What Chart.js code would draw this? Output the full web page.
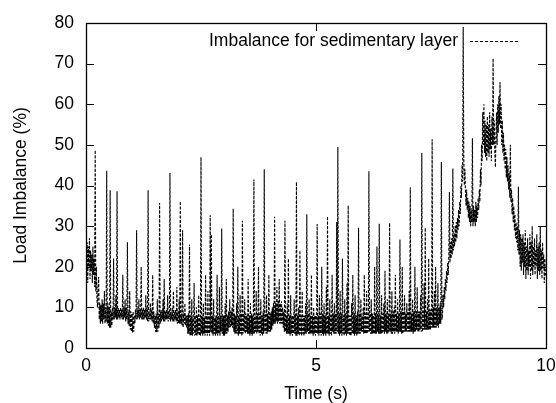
<!DOCTYPE html>
<html>
<head>
<meta charset="utf-8">
<script src="https://cdn.jsdelivr.net/npm/chart.js@4.4.1/dist/chart.umd.min.js"></script>
<style>
html,body{margin:0;padding:0;background:#fff;}
#wrap{width:556px;height:403px;}
canvas{display:block;}
</style>
</head>
<body>
<div id="wrap"><canvas id="c" width="556" height="403"></canvas></div>
<script>
// ---- data ----
const sampleStep = 0.0125; // seconds between samples
const seriesLabel = 'Imbalance for sedimentary layer';
const xTitle = 'Time (s)';
const yTitle = 'Load Imbalance (%)';
const xTickValues = [0, 5, 10];
const yTickValues = [0, 10, 20, 30, 40, 50, 60, 70, 80];
const imbalance = [
  28, 18, 26, 16, 25, 20, 27, 17, 24, 19, 23, 16, 25, 18, 22, 15, 48.7, 14, 20, 12,
  10, 15, 17.5, 7, 11, 6, 10.5, 6.5, 12, 6, 11, 7, 14, 6, 10, 6.5, 43.6, 6, 11, 5.5,
  10, 5, 38.8, 5, 9, 5.5, 10, 7, 22, 7, 10, 7.5, 13, 7, 38.6, 7, 10, 7.5, 9.5, 7,
  10, 7.5, 9.5, 7, 18, 7, 10, 7.5, 12, 6.5, 10, 7, 26, 6, 9, 5.5, 14, 4.5, 9, 4,
  8.5, 3.8, 9, 4, 8, 6, 9.5, 7, 29, 7, 9.5, 7.5, 12, 7, 9.5, 7.5, 20, 7, 9.5, 7,
  10, 7, 9.5, 7.5, 13, 7, 10, 6.5, 38.8, 6.5, 9, 7, 11, 7, 9.5, 6.5, 18, 6, 9, 5,
  8, 4, 8.5, 3.8, 12, 4, 8.5, 5, 35.7, 6, 9, 6.5, 9.5, 7, 12, 6.5, 17, 6.5, 9, 7,
  9.5, 7, 13, 6.5, 9, 7, 43.1, 6.5, 9, 7, 10, 6.5, 14, 6.5, 9, 7, 9.5, 6.5, 15, 6,
  9, 6, 12, 6, 36.1, 6, 8.5, 5.5, 29, 5, 8.5, 6, 11, 5.5, 8, 5, 8, 3.5, 8.5, 3.5,
  25.5, 3, 8, 3.2, 12, 3, 7.5, 3.5, 16, 3, 8, 3.2, 10, 3, 8, 3.5, 13, 3, 7.5, 3,
  47, 3.5, 8, 3, 11, 3.5, 7.5, 3, 18, 3.5, 8, 3, 14, 3.5, 8, 3, 32.7, 4, 28, 3.5,
  8, 3, 12, 3.5, 7.5, 3, 8, 3.5, 18, 3, 8, 3.5, 15, 3, 8, 4, 29.4, 3.5, 8, 3,
  8, 3, 11, 3.5, 17, 3.5, 8, 4, 9, 5, 12, 5, 9, 5.5, 10, 5, 34.3, 4, 8.5, 3.5,
  8, 3.5, 11, 3.5, 20, 3, 8, 3.5, 13, 3.5, 8.5, 3, 31.3, 3.5, 8.5, 4, 12, 3.5, 8.5, 4,
  8, 3.5, 17, 3.5, 8, 3, 11, 3.5, 8.5, 3, 8, 3.5, 41.5, 3.5, 8, 4, 14, 3.5, 8.5, 4,
  20, 3.5, 8.5, 3, 12, 3.5, 8, 3, 9, 3.5, 44, 4, 8.5, 3.5, 13, 3.5, 8.5, 4, 18, 4,
  8.5, 4, 9, 4.5, 10, 5.5, 11, 6, 32.3, 6, 11, 6.5, 15, 6, 11.5, 6.5, 17, 6, 11, 6,
  11.5, 6, 10, 5, 9, 4, 31.3, 4, 8, 3.5, 11, 3.5, 22, 3.5, 8, 3, 13, 3.5, 8, 3,
  8, 3.5, 12, 3.5, 8.5, 3, 40.9, 3, 8, 3.5, 10, 3, 24, 3.5, 8, 3, 14, 3.5, 8, 3,
  8, 3.5, 11, 3.5, 32.9, 4, 8.5, 3.5, 12, 3.5, 8, 3.5, 18, 3.5, 8, 3, 10, 3.5, 8, 3,
  8, 3.5, 30.5, 3.5, 8, 3, 13, 3.5, 8.5, 3, 20, 3.5, 8.5, 3, 11, 3.5, 8, 3, 15, 3.5,
  32.4, 3.5, 8, 3, 12, 3.5, 8, 3, 18, 4, 8.5, 3.5, 11, 3.5, 8.5, 3.5, 31, 4, 49.5, 3.5,
  8.5, 3, 14, 3.5, 8.5, 3, 22, 3.5, 8, 3, 12, 3.5, 8.5, 3, 16, 3.5, 35.1, 3.5, 8, 3,
  8, 3, 11, 3.5, 18, 3.5, 8.5, 3, 13, 3.5, 8, 3, 9, 3.5, 29.6, 3.5, 8.5, 3.5, 12, 4,
  8, 4, 10, 3.5, 18, 3.5, 8.5, 3.5, 14, 3.5, 8.5, 4, 43.5, 4, 8.5, 3.5, 12, 3.5, 8.5, 3.5,
  8, 3.5, 20, 3.5, 8.5, 3.5, 25, 4, 8.5, 3.5, 30.6, 3.5, 8, 3.5, 13, 3.5, 8.5, 4, 11, 3.5,
  19, 4, 8.5, 3.5, 12, 3.5, 8.5, 4, 30.8, 4, 8.5, 3.5, 14, 3.5, 9, 4, 10, 3.5, 18, 4,
  8.5, 4, 12, 3.5, 8.5, 4, 26.7, 4, 9, 3.5, 20, 3.5, 9, 4, 13, 4, 8.5, 4, 11, 4,
  9, 4, 14, 4, 39.5, 4, 8.5, 4, 12, 3.5, 9, 4, 20, 4, 9, 4.5, 15, 4, 9, 4,
  9, 4.5, 13, 4, 48, 4, 9, 4.5, 16, 4.5, 29.6, 4.5, 9, 4.5, 12, 4.5, 22, 4.5, 9.5, 4.5,
  9.5, 5, 51.4, 5, 10, 5, 14, 5, 20, 5, 10, 5.5, 16, 5, 10, 6, 11, 6, 45.8, 7,
  8, 13, 10, 15, 12, 17, 14, 19, 16, 21, 18, 23, 38.4, 21, 26, 22, 27, 23, 44.2, 24,
  28, 25, 30, 26, 31, 27, 32, 29, 34, 30, 36, 33, 40, 37, 45, 41, 79, 47, 40, 44,
  38, 35, 39, 34, 37, 32, 36, 31, 35, 30, 34, 31, 51.6, 30, 35, 31, 34, 30, 36, 31,
  35, 32, 37, 34, 39, 36, 44, 40, 50, 46, 58, 50, 60, 48, 56, 47, 55, 46, 57, 48,
  55, 47, 58, 49, 54, 46, 57, 50, 71.3, 50, 56, 48, 44.5, 52, 58, 50, 60, 53, 62, 55,
  65.5, 54, 60, 50, 56, 48, 53, 46, 50, 44, 49, 42, 47, 41, 45, 39, 43, 37, 50, 36,
  39, 33, 37, 31, 35, 29, 33, 27, 31, 26, 30, 24, 39.7, 23, 29, 20, 28, 19, 27, 21,
  28, 18, 26, 20, 29, 17, 25, 19, 27, 18, 24, 20, 28, 17, 26, 19, 30, 18, 25, 20,
  27, 18, 24, 20, 28, 17, 25, 19, 26, 18, 30, 19, 24, 17, 26, 20, 23, 16, 22, 18,
  18
];

// ---- build chart ----
const points = imbalance.map((v, i) => ({ x: i * sampleStep, y: v }));
const FONT = "'Liberation Sans', Arial, Helvetica, sans-serif";
const FSIZE = 17.5;

const gnuplotFrame = {
  id: 'gnuplotFrame',
  afterDraw(chart) {
    const ctx = chart.ctx;
    const a = chart.chartArea;
    const xs = chart.scales.x, ys = chart.scales.y;
    const tl = 8;
    ctx.save();
    ctx.strokeStyle = '#000';
    ctx.lineWidth = 1;
    ctx.setLineDash([]);
    ctx.beginPath();
    yTickValues.forEach(v => {
      const p = Math.round(ys.getPixelForValue(v)) + 0.5;
      ctx.moveTo(a.left, p); ctx.lineTo(a.left + tl, p);
      ctx.moveTo(a.right, p); ctx.lineTo(a.right - tl, p);
    });
    xTickValues.forEach(v => {
      const p = Math.round(xs.getPixelForValue(v)) + 0.5;
      ctx.moveTo(p, a.bottom); ctx.lineTo(p, a.bottom - tl);
      ctx.moveTo(p, a.top); ctx.lineTo(p, a.top + tl);
    });
    ctx.stroke();
    ctx.lineWidth = 1.3;
    ctx.strokeRect(Math.round(a.left) + 0.5, Math.round(a.top) + 0.5,
                   Math.round(a.right - a.left), Math.round(a.bottom - a.top));
    // key (legend) in gnuplot style: text then line sample
    ctx.fillStyle = '#000';
    ctx.font = FSIZE + 'px ' + FONT;
    ctx.textAlign = 'right';
    ctx.textBaseline = 'middle';
    ctx.fillText(seriesLabel, 458, 41);
    ctx.lineWidth = 1;
    ctx.setLineDash([3, 2]);
    ctx.beginPath();
    ctx.moveTo(470, 41.5); ctx.lineTo(519, 41.5);
    ctx.stroke();
    ctx.restore();
  }
};

new Chart(document.getElementById('c'), {
  type: 'line',
  data: {
    datasets: [{
      label: seriesLabel,
      data: points,
      borderColor: '#000',
      borderWidth: 1.1,
      borderDash: [3, 1.5],
      pointRadius: 0,
      tension: 0,
      fill: false
    }]
  },
  options: {
    responsive: false,
    animation: false,
    devicePixelRatio: 1,
    layout: { padding: { top: 23, right: 10, left: 0, bottom: 0 } },
    plugins: { legend: { display: false }, tooltip: { enabled: false } },
    scales: {
      x: {
        type: 'linear', min: 0, max: 10,
        afterBuildTicks(s) { s.ticks = xTickValues.map(v => ({ value: v })); },
        afterFit(s) { s.height = 55; s.paddingLeft = 0; s.paddingRight = 0; },
        grid: { display: false, drawTicks: false },
        border: { display: false },
        ticks: { color: '#000', padding: 9, maxRotation: 0, font: { family: FONT, size: FSIZE, lineHeight: 1 } },
        title: { display: true, text: xTitle, color: '#000', padding: { top: 0, bottom: 0 }, font: { family: FONT, size: FSIZE, lineHeight: 1 } }
      },
      y: {
        min: 0, max: 80,
        afterBuildTicks(s) { s.ticks = yTickValues.map(v => ({ value: v })); },
        afterFit(s) { s.width = 86; s.paddingTop = 0; s.paddingBottom = 0; },
        grid: { display: false, drawTicks: false },
        border: { display: false },
        ticks: { color: '#000', padding: 12, font: { family: FONT, size: FSIZE, lineHeight: 1 } },
        title: { display: true, text: yTitle, color: '#000', padding: { top: 12, bottom: 0 }, font: { family: FONT, size: FSIZE, lineHeight: 1 } }
      }
    }
  },
  plugins: [gnuplotFrame]
});
</script>
</body>
</html>
